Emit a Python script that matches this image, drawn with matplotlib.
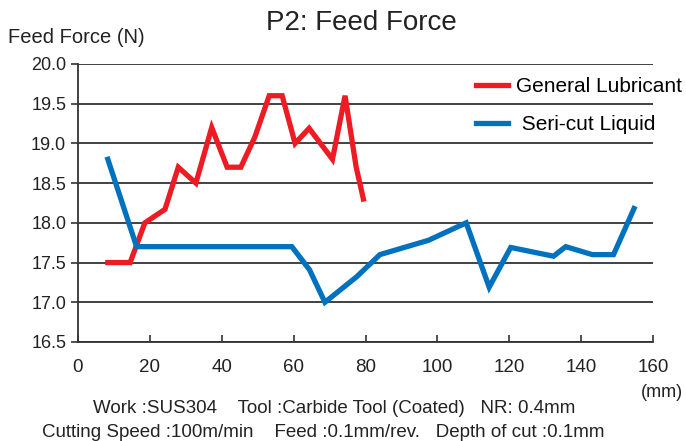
import matplotlib.pyplot as plt

plt.rcParams['font.family'] = ['Liberation Sans', 'DejaVu Sans']

# General Lubricant
red_x = [8.3, 14.5, 18.6, 24.2, 27.9, 32.8, 37.2, 41.5, 45.3, 49.2, 53.2, 56.8,
         60.4, 64.3, 70.8, 74.3, 77.4, 79.4]
red_y = [17.5, 17.5, 18.0, 18.17, 18.7, 18.5, 19.2, 18.7, 18.7, 19.08, 19.6, 19.6,
         19.0, 19.19, 18.8, 19.6, 18.7, 18.3]

# Seri-cut Liquid
blue_x = [8.3, 16.3, 59.5, 64.4, 68.7, 77.5, 84.0, 97.5, 108.0, 114.4, 120.4,
          132.3, 135.7, 143.1, 149.0, 154.7]
blue_y = [18.8, 17.7, 17.7, 17.41, 17.0, 17.32, 17.6, 17.78, 18.0, 17.19, 17.69,
          17.58, 17.7, 17.6, 17.6, 18.18]

yticks = [16.5, 17.0, 17.5, 18.0, 18.5, 19.0, 19.5, 20.0]
xticks = [0, 20, 40, 60, 80, 100, 120, 140, 160]

fig = plt.figure(figsize=(6.86, 4.41), dpi=100)
ax = fig.add_axes([0.1137, 0.2245, 0.952 - 0.1137, 0.855 - 0.2245])

ax.plot(red_x, red_y, color='#ED1C24', lw=3.8, label='General Lubricant', solid_joinstyle='miter')
ax.plot(blue_x, blue_y, color='#0071BC', lw=3.8, label=' Seri-cut Liquid', solid_joinstyle='miter')

ax.set_xlim(0, 160)
ax.set_ylim(16.5, 20.0)
ax.set_xticks(xticks)
ax.set_yticks(yticks)
ax.set_yticklabels([f'{v:.1f}' for v in yticks])
ax.yaxis.grid(True, color='#333333', lw=1.3)
ax.set_axisbelow(True)
ax.spines['top'].set_visible(False)
ax.spines['right'].set_visible(False)
for s in ['left', 'bottom']:
    ax.spines[s].set_color('#333333')
    ax.spines[s].set_linewidth(1.3)
ax.tick_params(axis='y', direction='out', length=5, width=1.2, color='#333333',
               labelsize=13, labelcolor='#222222')
ax.tick_params(axis='x', direction='in', length=5, width=1.2, color='#333333',
               labelsize=13.5, labelcolor='#222222', pad=12)

leg = ax.legend(loc='upper left', bbox_to_anchor=(0.66, 1.02), frameon=False,
                fontsize=15, handlelength=1.5, labelspacing=0.9, handletextpad=0.4)

fig.text(0.527, 0.947, 'P2: Feed Force', ha='center', va='center', fontsize=20, color='#222222')
fig.text(0.012, 0.916, 'Feed Force (N)', ha='left', va='center', fontsize=14.5, color='#222222')
fig.text(0.995, 0.111, '(mm)', ha='right', va='center', fontsize=13, color='#222222')
fig.text(0.487, 0.073, 'Work :SUS304    Tool :Carbide Tool (Coated)   NR: 0.4mm',
         ha='center', va='center', fontsize=13.5, color='#222222')
fig.text(0.471, 0.02, 'Cutting Speed :100m/min    Feed :0.1mm/rev.   Depth of cut :0.1mm',
         ha='center', va='center', fontsize=13.5, color='#222222')

fig.savefig('out.png', dpi=100)
